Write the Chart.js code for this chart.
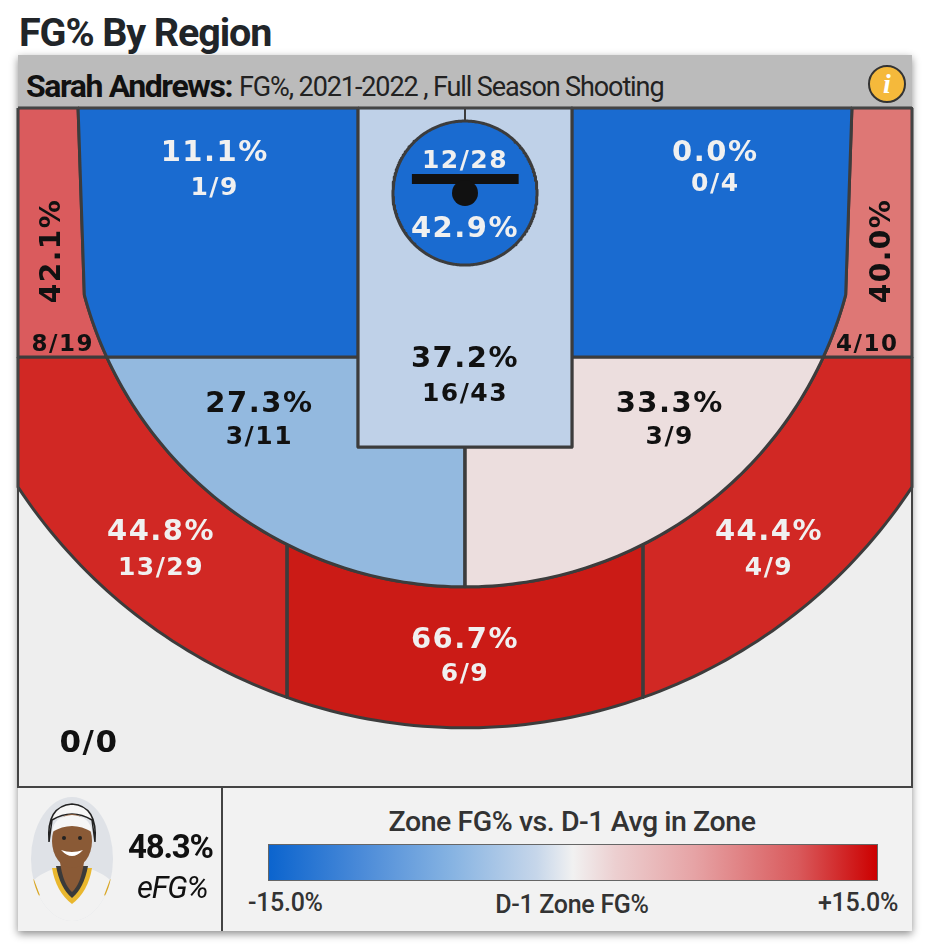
<!DOCTYPE html>
<html>
<head>
<meta charset="utf-8">
<title>FG% By Region</title>
<script src="https://cdn.jsdelivr.net/npm/chart.js@4/dist/chart.umd.js"></script>
<style>
  html, body { margin: 0; padding: 0; background: #fff; }
  body { position: relative; width: 932px; height: 950px; overflow: hidden; font-family: Roboto, sans-serif; }
  .abs { position: absolute; white-space: nowrap; }
  #title { left: 19px; top: 11px; font-size: 39.5px; line-height: 44px; font-weight: 700; color: #212529; letter-spacing: -1.1px; }
  #card { left: 18px; top: 55px; width: 894px; height: 876px; background: #f2f2f2; box-shadow: 0 3px 8px rgba(0,0,0,.45); }
  #header { left: 18px; top: 55px; width: 894px; height: 53px; background: #bbbbbb; }
  #player { left: 26px; top: 68px; font-size: 32px; line-height: 36px; font-weight: 700; color: #111; letter-spacing: -1.4px; }
  #context { left: 239px; top: 69px; font-size: 27px; line-height: 36px; font-weight: 400; color: #222; letter-spacing: -1.1px; }
  #info { left: 868px; top: 65px; width: 34px; height: 34px; border: 2px solid #333; border-radius: 50%; background: #f5b93b; color: #fff;
          font: italic 700 28px/34px "Liberation Serif", serif; text-align: center; }
  #court { left: 16px; top: 106px; width: 898px; height: 683px; }
  #divider { left: 221px; top: 788px; width: 1.5px; height: 143px; background: #444; }
  #efg { left: 128px; top: 829px; font-size: 33px; line-height: 36px; font-weight: 700; color: #111; letter-spacing: -1.2px; }
  #efgLabel { left: 137px; top: 871px; font-size: 31px; line-height: 34px; font-style: italic; color: #111; letter-spacing: -1.2px; }
  #legendTitle { left: 272px; width: 600px; top: 806px; text-align: center; font-size: 28.5px; line-height: 32px; font-weight: 500; color: #333; letter-spacing: -.45px; }
  #legendBar { left: 268px; top: 844px; width: 608px; height: 35px; border: 1.5px solid #666;
               background: linear-gradient(to right, #0b64ce 0%, #4a8ad8 15%, #86b3e2 30%, #c6d6ea 44%, #f1f1f1 50%, #eccfd0 57%, #e6a3a5 70%, #d95a5c 87%, #cc0000 100%); }
  .tick { top: 888px; font-size: 25px; line-height: 30px; font-weight: 500; color: #333; letter-spacing: -.3px; }
  #tickMin { left: 248px; }
  #tickMid { left: 272px; width: 600px; text-align: center; top: 890px; }
  #tickMax { left: 818px; }
  #photo { left: 30px; top: 796px; }
</style>
</head>
<body>
<div class="abs" id="title">FG% By Region</div>
<div class="abs" id="card"></div>
<div class="abs" id="header"></div>
<div class="abs" id="player">Sarah Andrews:</div>
<div class="abs" id="context">FG%, 2021-2022 , Full Season Shooting</div>
<div class="abs" id="info">i</div>
<div class="abs" id="court"><canvas id="zoneChart"></canvas></div>
<div class="abs" id="divider"></div>
<svg class="abs" id="photo" width="84" height="126" viewBox="0 0 84 126">
  <defs><clipPath id="oval"><ellipse cx="42" cy="63" rx="41" ry="62"/></clipPath></defs>
  <g clip-path="url(#oval)">
    <rect width="84" height="126" fill="#dfe2e7"/>
    <path d="M0 126 V88 Q8 78 26 72 H58 Q76 78 84 88 V126 Z" fill="#f2f2f2"/>
    <path d="M2 84 L8 100 M82 84 L76 100" stroke="#d9a520" stroke-width="4"/>
    <path d="M22 72 Q26 96 42 108 Q58 96 62 72 Z" fill="#e9b72e"/>
    <path d="M26 70 Q30 92 42 102 Q54 92 58 70 Z" fill="#3a3a3a"/>
    <path d="M30 66 Q33 88 42 96 Q51 88 54 66 Z" fill="#8a5a36"/>
    <path d="M19 46 Q16 10 42 8 Q68 10 65 46 L62 24 Q42 12 22 24 Z" fill="#f6f6f6" stroke="#222" stroke-width="1.5"/>
    <ellipse cx="42" cy="45" rx="20" ry="27" fill="#8a5a36"/>
    <path d="M22 36 Q24 20 42 19 Q60 20 62 36 Q42 24 22 36 Z" fill="#f6f6f6"/>
    <circle cx="34" cy="42" r="2" fill="#222"/>
    <circle cx="50" cy="42" r="2" fill="#222"/>
    <path d="M31 54 Q42 66 53 54 Q42 58 31 54 Z" fill="#fff"/>
  </g>
</svg>
<div class="abs" id="efg">48.3%</div>
<div class="abs" id="efgLabel">eFG%</div>
<div class="abs" id="legendTitle">Zone FG% vs. D-1 Avg in Zone</div>
<div class="abs" id="legendBar"></div>
<div class="abs tick" id="tickMin">-15.0%</div>
<div class="abs tick" id="tickMid">D-1 Zone FG%</div>
<div class="abs tick" id="tickMax">+15.0%</div>

<script>
// shooting numbers, one entry per zone
const zoneNames = ["leftCorner", "rightCorner", "leftBase", "rightBase", "rim", "paint", "leftElbow", "rightElbow", "leftThree", "rightThree", "topThree"];
const zonePct = ["42.1%", "40.0%", "11.1%", "0.0%", "42.9%", "37.2%", "27.3%", "33.3%", "44.8%", "44.4%", "66.7%"];
const zoneCounts = ["8/19", "4/10", "1/9", "0/4", "12/28", "16/43", "3/11", "3/9", "13/29", "4/9", "6/9"];
const backcourtCount = "0/0";

// zone fill and text colour
const zoneColors = ["#da5b5d", "#de7775", "#1a6bd0", "#1a6bd0", "#1a6bd0", "#bfd1e8", "#93b9df", "#ecdede", "#d12824", "#d12824", "#cb1b16"];
const zoneInk = ["#111", "#111", "#f0f0f0", "#f0f0f0", "#f0f0f0", "#111", "#111", "#111", "#f0f0f0", "#f0f0f0", "#f0f0f0"];

// court layout in feet, x from the centre line, y from the baseline
const halfWidth = 25, courtDepth = 38;
const hoopY = 4.76, innerR = 22.04, outerR = 29.93;
const laneX = 5.98, laneY = 18.97, breakY = 13.93, kneeY = 10.46, topX = 21.64;
const splitX = 9.95, rimR = 4.03;

// [pct x, pct y, count x, count y]
const labelSpots = {
  leftCorner: [-23.2, 8.0, -22.5, 13.1],
  rightCorner: [23.2, 8.0, 22.5, 13.1],
  leftBase: [-14, 2.4, -14, 4.35],
  rightBase: [14, 2.4, 14, 4.1],
  rim: [0, 6.65, 0, 2.85],
  paint: [0, 13.93, 0, 15.85],
  leftElbow: [-11.5, 16.45, -11.5, 18.3],
  rightElbow: [11.45, 16.45, 11.45, 18.3],
  leftThree: [-17, 23.6, -17, 25.6],
  rightThree: [17, 23.6, 17, 25.6],
  topThree: [0, 29.65, 0, 31.55]
};
const backcourtSpot = [-21.03, 35.4];

const rad = d => d * Math.PI / 180;
const deg = a => a * 180 / Math.PI;
const angleAtY = (r, y) => deg(Math.acos((y - hoopY) / r));
const angleAtX = (r, x) => deg(Math.asin(x / r));

// angle 0 points straight down the court from the hoop
function arc(r, from, to) {
  const pts = [];
  const steps = Math.max(2, Math.ceil(Math.abs(to - from)));
  for (let i = 0; i <= steps; i++) {
    const a = rad(from + (to - from) * i / steps);
    pts.push({ x: r * Math.sin(a), y: hoopY + r * Math.cos(a) });
  }
  return pts;
}

const inBreak = angleAtY(innerR, breakY), inKnee = angleAtY(innerR, kneeY);
const inSplit = angleAtX(innerR, splitX), outSplit = angleAtX(outerR, splitX);
const outEdge = angleAtX(outerR, halfWidth);

const shapes = {
  leftCorner: [{ x: -halfWidth, y: 0 }, { x: -topX, y: 0 }, ...arc(innerR, -inKnee, -inBreak), { x: -halfWidth, y: breakY }],
  rightCorner: [{ x: halfWidth, y: 0 }, { x: topX, y: 0 }, ...arc(innerR, inKnee, inBreak), { x: halfWidth, y: breakY }],
  leftBase: [{ x: -topX, y: 0 }, { x: -laneX, y: 0 }, { x: -laneX, y: breakY }, ...arc(innerR, -inBreak, -inKnee)],
  rightBase: [{ x: topX, y: 0 }, { x: laneX, y: 0 }, { x: laneX, y: breakY }, ...arc(innerR, inBreak, inKnee)],
  rim: arc(rimR, 0, 360),
  paint: [{ x: -laneX, y: 0 }, { x: laneX, y: 0 }, { x: laneX, y: laneY }, { x: -laneX, y: laneY }],
  leftElbow: [{ x: -laneX, y: breakY }, { x: -laneX, y: laneY }, { x: 0, y: laneY }, ...arc(innerR, 0, -inBreak)],
  rightElbow: [{ x: laneX, y: breakY }, { x: laneX, y: laneY }, { x: 0, y: laneY }, ...arc(innerR, 0, inBreak)],
  leftThree: [{ x: -halfWidth, y: breakY }, ...arc(innerR, -inBreak, -inSplit), ...arc(outerR, -outSplit, -outEdge)],
  rightThree: [{ x: halfWidth, y: breakY }, ...arc(innerR, inBreak, inSplit), ...arc(outerR, outSplit, outEdge)],
  topThree: [...arc(innerR, -inSplit, inSplit), ...arc(outerR, outSplit, -outSplit)]
};

// order of painting, lower zones first so the rim sits on the paint
const paintOrder = ["leftThree", "rightThree", "topThree", "leftElbow", "rightElbow", "leftCorner", "rightCorner", "leftBase", "rightBase", "paint", "rim"];
const lineColor = "#3c3c3c";

const datasets = paintOrder.map((name, i) => {
  const idx = zoneNames.indexOf(name);
  const pts = shapes[name];
  return {
    label: name,
    data: [...pts, pts[0]],
    showLine: true,
    fill: "shape",
    backgroundColor: zoneColors[idx],
    borderColor: lineColor,
    borderWidth: 3,
    borderJoinStyle: "round",
    pointRadius: 0,
    tension: 0,
    clip: false,
    order: 100 - i
  };
});

function lineSet(points, color, width, order) {
  return { data: points, showLine: true, fill: false, borderColor: color, borderWidth: width, pointRadius: 0, tension: 0, clip: false, order };
}

// split line below the paint, stem behind the hoop, frame, backboard
datasets.push(lineSet([{ x: 0, y: laneY }, { x: 0, y: hoopY + innerR }], lineColor, 3, 50));
datasets.push(lineSet([{ x: 0, y: 0 }, { x: 0, y: hoopY - rimR }], lineColor, 2, 49));
datasets.push(lineSet([{ x: -splitX, y: hoopY + innerR * Math.cos(rad(inSplit)) }, { x: -splitX, y: hoopY + outerR * Math.cos(rad(outSplit)) }], lineColor, 3, 48));
datasets.push(lineSet([{ x: splitX, y: hoopY + innerR * Math.cos(rad(inSplit)) }, { x: splitX, y: hoopY + outerR * Math.cos(rad(outSplit)) }], lineColor, 3, 47));
datasets.push(lineSet([{ x: -halfWidth, y: 0 }, { x: halfWidth, y: 0 }, { x: halfWidth, y: courtDepth }, { x: -halfWidth, y: courtDepth }, { x: -halfWidth, y: 0 }], "#444", 2, 46));
datasets.push(lineSet([{ x: -2.97, y: 3.97 }, { x: 3, y: 3.97 }], "#111", 10, 45));
datasets.push({ data: [{ x: 0, y: hoopY }], pointRadius: 13, pointHoverRadius: 13, pointBackgroundColor: "#111", pointBorderWidth: 0, showLine: false, clip: false, order: 44 });

function drawText(ctx, text, x, y, size, color, rotate) {
  ctx.save();
  ctx.translate(x, y);
  if (rotate) ctx.rotate(-Math.PI / 2);
  ctx.font = `bold ${size}px "DejaVu Sans"`;
  ctx.letterSpacing = "1.5px";
  ctx.textAlign = "center";
  ctx.textBaseline = "middle";
  ctx.fillStyle = color;
  ctx.fillText(text, 0, 3);
  ctx.restore();
}

const zoneLabels = {
  id: "zoneLabels",
  afterDatasetsDraw(chart) {
    const { ctx, scales } = chart;
    const px = v => scales.x.getPixelForValue(v), py = v => scales.y.getPixelForValue(v);
    zoneNames.forEach((name, i) => {
      const s = labelSpots[name];
      const corner = name.endsWith("Corner");
      drawText(ctx, zonePct[i], px(s[0]), py(s[1]), corner ? 28 : 29, zoneInk[i], corner);
      drawText(ctx, zoneCounts[i], px(s[2]), py(s[3]), corner ? 23 : 25, zoneInk[i], false);
    });
    drawText(ctx, backcourtCount, px(backcourtSpot[0]), py(backcourtSpot[1]), 31, "#111", false);
  }
};

const floorColor = {
  id: "floorColor",
  beforeDatasetsDraw(chart) {
    const { ctx, chartArea: a } = chart;
    ctx.save();
    ctx.fillStyle = "#eeeeee";
    ctx.fillRect(a.left, a.top, a.right - a.left, a.bottom - a.top);
    ctx.restore();
  }
};

new Chart(document.getElementById("zoneChart"), {
  type: "scatter",
  data: { datasets },
  plugins: [floorColor, zoneLabels],
  options: {
    responsive: true,
    maintainAspectRatio: false,
    animation: false,
    events: [],
    layout: { padding: 2, autoPadding: false },
    plugins: { legend: { display: false }, tooltip: { enabled: false }, filler: { drawTime: "beforeDatasetDraw" } },
    scales: {
      x: { type: "linear", min: -halfWidth, max: halfWidth, display: false },
      y: { type: "linear", min: 0, max: courtDepth, reverse: true, display: false }
    }
  }
});
</script>
</body>
</html>
